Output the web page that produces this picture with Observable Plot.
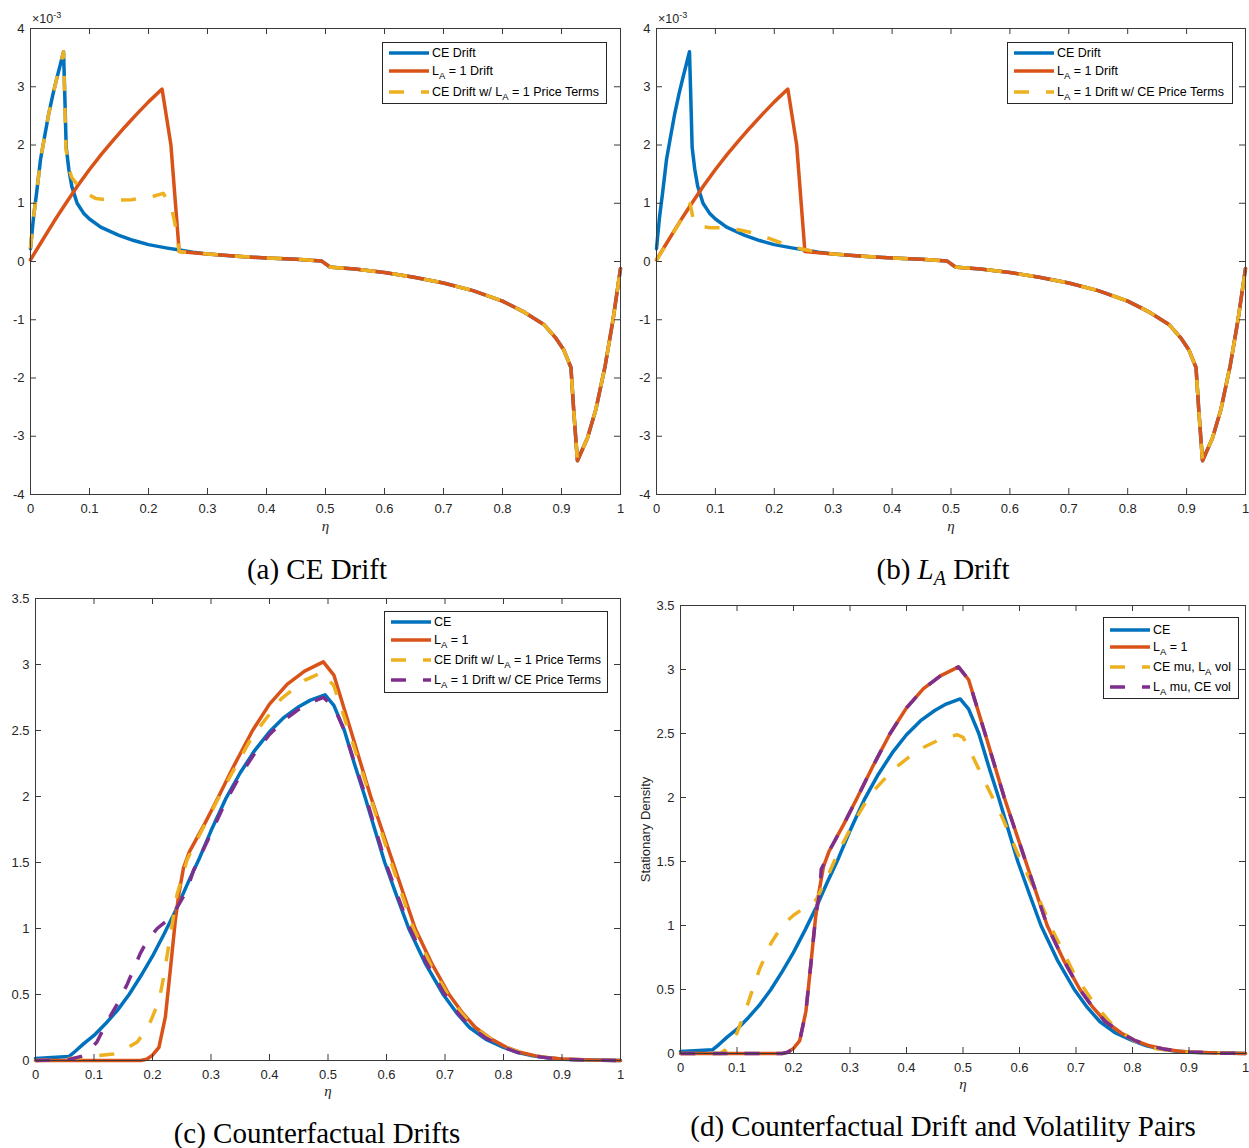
<!DOCTYPE html>
<html><head><meta charset="utf-8">
<script src="https://cdn.jsdelivr.net/npm/d3@7"></script>
<script src="https://cdn.jsdelivr.net/npm/@observablehq/plot@0.6"></script>
<style>
body{margin:0;background:#fff;}
#root{position:relative;width:1249px;height:1148px;overflow:hidden;background:#fff;font-family:"Liberation Sans",Arial,Helvetica,sans-serif;}
.panel{position:absolute;}
.legend{position:absolute;border:1px solid #262626;background:#fff;box-sizing:border-box;}
.lrow{position:absolute;left:0;height:16px;line-height:16px;white-space:nowrap;font-size:12.5px;color:#000;}
.lrow svg{position:absolute;left:0;top:0;}
.lrow span.t{position:absolute;top:0;}
.lrow sub{font-size:9.5px;vertical-align:-4px;line-height:0;}
.exp{position:absolute;font-size:12.5px;color:#262626;line-height:14px;}
.exp sup{font-size:9px;vertical-align:5px;line-height:0;}
.cap{position:absolute;font-family:"Liberation Serif","Times New Roman",serif;font-size:29px;line-height:29px;color:#000;text-align:center;white-space:nowrap;}
.cap sub{font-size:20px;vertical-align:-6px;line-height:0;}
</style></head>
<body><div id="root"></div>
<script>
// ---------- tick values and labels ----------
const etaTicks = [0, 0.1, 0.2, 0.3, 0.4, 0.5, 0.6, 0.7, 0.8, 0.9, 1];
const etaTickLabels = ["0", "0.1", "0.2", "0.3", "0.4", "0.5", "0.6", "0.7", "0.8", "0.9", "1"];
const driftTicks = [-4, -3, -2, -1, 0, 1, 2, 3, 4];
const driftTickLabels = ["-4", "-3", "-2", "-1", "0", "1", "2", "3", "4"];
const densityTicks = [0, 0.5, 1, 1.5, 2, 2.5, 3, 3.5];
const densityTickLabels = ["0", "0.5", "1", "1.5", "2", "2.5", "3", "3.5"];

// ---------- drift series (values in units of 10^-3) ----------
// common part of all drift curves for eta >= 0.3
const driftTailEta = [0.3, 0.35, 0.4, 0.45, 0.493, 0.507, 0.51, 0.55, 0.6, 0.65, 0.7, 0.75, 0.8, 0.837, 0.87, 0.89, 0.904, 0.916, 0.921, 0.927, 0.944, 0.958, 0.974, 0.987, 1.0];
const driftTailVal = [0.13, 0.09, 0.06, 0.04, 0.01, -0.09, -0.1, -0.13, -0.19, -0.27, -0.37, -0.5, -0.68, -0.87, -1.08, -1.31, -1.52, -1.82, -2.6, -3.42, -3.03, -2.55, -1.79, -1.02, -0.12];

const ceDriftEta = [0, 0.005, 0.01, 0.017, 0.024, 0.031, 0.038, 0.045, 0.051, 0.056, 0.058, 0.0605, 0.065, 0.07, 0.079, 0.09, 0.1, 0.119, 0.15, 0.175, 0.2, 0.232, 0.25, 0.275];
const ceDriftVal = [0.22, 0.75, 1.15, 1.75, 2.15, 2.54, 2.87, 3.16, 3.4, 3.6, 2.9, 1.96, 1.58, 1.29, 1.0, 0.83, 0.73, 0.59, 0.45, 0.36, 0.29, 0.23, 0.2, 0.16];

const laDriftEta = [0, 0.02, 0.04, 0.06, 0.08, 0.1, 0.12, 0.14, 0.16, 0.18, 0.2, 0.223, 0.238, 0.252, 0.275];
const laDriftVal = [0.03, 0.36, 0.69, 1.0, 1.3, 1.58, 1.84, 2.08, 2.31, 2.53, 2.74, 2.96, 2.0, 0.17, 0.15];

const ceDriftLaPriceEta = [0, 0.005, 0.01, 0.017, 0.024, 0.031, 0.038, 0.045, 0.051, 0.056, 0.06, 0.065, 0.07, 0.084, 0.1, 0.111, 0.141, 0.171, 0.205, 0.225, 0.239, 0.245, 0.252, 0.275];
const ceDriftLaPriceVal = [0.22, 0.75, 1.15, 1.75, 2.15, 2.54, 2.87, 3.16, 3.4, 3.6, 1.95, 1.6, 1.44, 1.26, 1.14, 1.08, 1.05, 1.06, 1.11, 1.17, 0.93, 0.64, 0.17, 0.15];

const laDriftCePriceEta = [0, 0.02, 0.04, 0.057, 0.062, 0.07, 0.09, 0.11, 0.137, 0.164, 0.19, 0.214, 0.244, 0.275];
const laDriftCePriceVal = [0.02, 0.35, 0.68, 0.99, 0.75, 0.62, 0.58, 0.58, 0.55, 0.49, 0.4, 0.31, 0.22, 0.16];

// ---------- stationary densities ----------
const ceDensEta = [0, 0.057, 0.068, 0.083, 0.1, 0.12, 0.14, 0.16, 0.18, 0.2, 0.22, 0.24, 0.26, 0.28, 0.3, 0.326, 0.35, 0.375, 0.4, 0.425, 0.45, 0.47, 0.495, 0.51, 0.528, 0.545, 0.563, 0.58, 0.597, 0.618, 0.638, 0.667, 0.697, 0.72, 0.742, 0.77, 0.8, 0.825, 0.85, 0.875, 0.9, 0.95, 1.0];
const ceDensVal = [0.015, 0.03, 0.07, 0.13, 0.19, 0.28, 0.38, 0.5, 0.64, 0.79, 0.96, 1.14, 1.34, 1.53, 1.74, 1.99, 2.18, 2.35, 2.49, 2.6, 2.68, 2.73, 2.77, 2.69, 2.5, 2.25, 2.0, 1.75, 1.5, 1.24, 1.0, 0.73, 0.5, 0.36, 0.25, 0.16, 0.1, 0.06, 0.035, 0.02, 0.01, 0.003, 0];

const laDensEta = [0, 0.18, 0.19, 0.2, 0.211, 0.222, 0.231, 0.239, 0.245, 0.253, 0.263, 0.29, 0.313, 0.34, 0.371, 0.4, 0.43, 0.46, 0.492, 0.51, 0.539, 0.556, 0.573, 0.592, 0.611, 0.63, 0.649, 0.678, 0.707, 0.73, 0.752, 0.78, 0.805, 0.83, 0.855, 0.88, 0.9, 0.95, 1.0];
const laDensVal = [0, 0, 0.01, 0.04, 0.1, 0.33, 0.71, 1.06, 1.26, 1.46, 1.58, 1.8, 2.0, 2.24, 2.5, 2.7, 2.85, 2.95, 3.02, 2.92, 2.5, 2.25, 2.0, 1.75, 1.5, 1.25, 1.0, 0.73, 0.5, 0.36, 0.25, 0.16, 0.1, 0.06, 0.035, 0.02, 0.012, 0.003, 0];

// (c) CE drift w/ L_A = 1 price terms
const ceDriftLaPriceDensEta = [0, 0.077, 0.133, 0.155, 0.174, 0.187, 0.197, 0.211, 0.219, 0.228, 0.234, 0.242, 0.251, 0.259, 0.284, 0.32, 0.37, 0.42, 0.46, 0.49, 0.51, 0.539, 0.556, 0.572, 0.59, 0.608, 0.627, 0.646, 0.675, 0.705, 0.728, 0.75, 0.78, 0.803, 0.83, 0.855, 0.88, 0.9, 0.95, 1.0];
const ceDriftLaPriceDensVal = [0, 0.02, 0.05, 0.09, 0.14, 0.22, 0.3, 0.45, 0.63, 0.88, 1.04, 1.26, 1.39, 1.52, 1.74, 2.05, 2.45, 2.74, 2.88, 2.94, 2.84, 2.45, 2.22, 2.0, 1.75, 1.5, 1.25, 1.0, 0.73, 0.5, 0.36, 0.25, 0.16, 0.1, 0.06, 0.035, 0.02, 0.012, 0.003, 0];

// (c) L_A = 1 drift w/ CE price terms
const laDriftCePriceDensEta = [0, 0.06, 0.085, 0.105, 0.123, 0.14, 0.157, 0.179, 0.191, 0.208, 0.225, 0.242, 0.259, 0.27, 0.3, 0.326, 0.35, 0.375, 0.4, 0.425, 0.45, 0.47, 0.492, 0.51, 0.528, 0.545, 0.563, 0.58, 0.597, 0.618, 0.638, 0.667, 0.697, 0.72, 0.742, 0.77, 0.8, 0.825, 0.85, 0.875, 0.9, 0.95, 1.0];
const laDriftCePriceDensVal = [0, 0.01, 0.04, 0.14, 0.3, 0.43, 0.58, 0.81, 0.91, 1.0, 1.06, 1.16, 1.29, 1.44, 1.72, 1.97, 2.16, 2.33, 2.47, 2.58, 2.66, 2.71, 2.75, 2.68, 2.5, 2.26, 2.02, 1.77, 1.52, 1.26, 1.02, 0.75, 0.52, 0.37, 0.26, 0.17, 0.1, 0.06, 0.035, 0.02, 0.01, 0.003, 0];

// (d) CE mu, L_A vol
const ceMuLaVolEta = [0, 0.07, 0.08, 0.1, 0.12, 0.14, 0.16, 0.18, 0.2, 0.22, 0.24, 0.26, 0.28, 0.306, 0.335, 0.377, 0.42, 0.462, 0.49, 0.5, 0.512, 0.54, 0.569, 0.597, 0.633, 0.661, 0.696, 0.732, 0.767, 0.803, 0.838, 0.888, 0.93, 1.0];
const ceMuLaVolVal = [0, 0, 0.03, 0.16, 0.4, 0.66, 0.86, 1.0, 1.08, 1.14, 1.2, 1.38, 1.58, 1.8, 2.02, 2.22, 2.37, 2.46, 2.49, 2.47, 2.37, 2.11, 1.85, 1.56, 1.22, 0.94, 0.63, 0.39, 0.21, 0.1, 0.04, 0.013, 0.005, 0];

// (d) L_A mu, CE vol
const laMuCeVolEta = [0, 0.18, 0.19, 0.2, 0.211, 0.222, 0.231, 0.239, 0.247, 0.249, 0.256, 0.263, 0.29, 0.313, 0.34, 0.371, 0.4, 0.43, 0.46, 0.492, 0.51, 0.539, 0.556, 0.573, 0.592, 0.611, 0.63, 0.649, 0.678, 0.707, 0.73, 0.752, 0.78, 0.805, 0.83, 0.855, 0.88, 0.9, 0.95, 1.0];
const laMuCeVolVal = [0, 0, 0.01, 0.04, 0.1, 0.33, 0.71, 1.06, 1.28, 1.44, 1.5, 1.58, 1.8, 2.0, 2.24, 2.5, 2.7, 2.85, 2.95, 3.02, 2.92, 2.5, 2.25, 2.0, 1.75, 1.5, 1.25, 1.0, 0.73, 0.5, 0.36, 0.25, 0.16, 0.1, 0.06, 0.035, 0.02, 0.012, 0.003, 0];

// ---------- styling ----------
const COL = {blue: "#0072BD", orange: "#D95319", yellow: "#EDB120", purple: "#7E2F8E"};
const AX = "#262626";
const FRAME = "#3a3a3a";
const DASH = "15,17";
const LW = 3.5;

const rows = (e, v) => e.map((x, i) => ({eta: x, v: v[i]}));
const withTail = (e, v) => rows(e.concat(driftTailEta), v.concat(driftTailVal));

const root = document.getElementById("root");

function addPanel(cfg) {
  const {left, top, width, height, m, yDomain, yTicks, yLabels, series, yLabel, etaDy} = cfg;
  const fw = width - m.l - m.r, fh = height - m.t - m.b;
  const xFmt = new Map(etaTicks.map((t, i) => [t, etaTickLabels[i]]));
  const yFmt = new Map(yTicks.map((t, i) => [t, yLabels[i]]));
  const marks = series.map(s => Plot.line(s.data, {
    x: "eta", y: "v", stroke: s.color, strokeWidth: LW,
    strokeDasharray: s.dash ? DASH : undefined,
    strokeLinecap: s.dash ? "butt" : "round", strokeLinejoin: "round"
  }));
  marks.push(
    Plot.frame({stroke: FRAME, strokeWidth: 1}),
    Plot.tickX(etaTicks, {x: d => d, stroke: FRAME, strokeWidth: 1, insetTop: fh - 6}),
    Plot.tickX(etaTicks, {x: d => d, stroke: FRAME, strokeWidth: 1, insetBottom: fh - 6}),
    Plot.tickY(yTicks, {y: d => d, stroke: FRAME, strokeWidth: 1, insetRight: fw - 6}),
    Plot.tickY(yTicks, {y: d => d, stroke: FRAME, strokeWidth: 1, insetLeft: fw - 6}),
    Plot.axisX({ticks: etaTicks, tickSize: 0, tickPadding: 9, tickFormat: d => xFmt.get(d), label: null, fontSize: 13}),
    Plot.axisY({ticks: yTicks, tickSize: 0, tickPadding: 6, tickFormat: d => yFmt.get(d), label: null, fontSize: 13}),
    Plot.text(["η"], {frameAnchor: "bottom", dy: etaDy, fontStyle: "italic", fontFamily: "Liberation Serif, Times New Roman, serif", fontSize: 15, fill: AX})
  );
  if (yLabel) marks.push(Plot.text([yLabel], {frameAnchor: "left", textAnchor: "middle", rotate: -90, dx: -35, fontSize: 13, fill: AX}));
  const svg = Plot.plot({
    width, height, marginLeft: m.l, marginRight: m.r, marginTop: m.t, marginBottom: m.b,
    style: {fontFamily: "Liberation Sans, Arial, Helvetica, sans-serif", fontSize: "13px", color: AX, background: "transparent", overflow: "visible"},
    x: {domain: [0, 1]},
    y: {domain: yDomain},
    marks
  });
  const div = document.createElement("div");
  div.className = "panel";
  div.style.left = left + "px"; div.style.top = top + "px";
  div.appendChild(svg);
  root.appendChild(div);
}

function addLegend(box, entries) {
  const lg = document.createElement("div");
  lg.className = "legend";
  Object.assign(lg.style, {left: box.x + "px", top: box.y + "px", width: box.w + "px", height: box.h + "px"});
  entries.forEach(en => {
    const r = document.createElement("div");
    r.className = "lrow";
    r.style.top = (en.cy - 8) + "px";
    r.style.width = box.w + "px";
    r.innerHTML = `<svg width="50" height="16"><line x1="6" x2="46" y1="8" y2="8" stroke="${en.color}" stroke-width="${LW}" ${en.dash ? `stroke-dasharray="${DASH}"` : ""} stroke-linecap="butt"/></svg><span class="t" style="left:49px">${en.html}</span>`;
    lg.appendChild(r);
  });
  root.appendChild(lg);
}

function addHtml(cls, x, y, html, w) {
  const d = document.createElement("div");
  d.className = cls;
  d.style.left = x + "px"; d.style.top = y + "px";
  if (w) d.style.width = w + "px";
  d.innerHTML = html;
  root.appendChild(d);
}

const LA = "L<sub>A</sub>";

// (a) CE Drift
addPanel({left: 0, top: 0, width: 640, height: 545, m: {l: 30, r: 20, t: 28, b: 51},
  yDomain: [-4, 4], yTicks: driftTicks, yLabels: driftTickLabels, etaDy: 36,
  series: [
    {data: withTail(ceDriftEta, ceDriftVal), color: COL.blue},
    {data: withTail(laDriftEta, laDriftVal), color: COL.orange},
    {data: withTail(ceDriftLaPriceEta, ceDriftLaPriceVal), color: COL.yellow, dash: true}
  ]});
addLegend({x: 382, y: 42, w: 225, h: 62}, [
  {cy: 10, color: COL.blue, html: "CE Drift"},
  {cy: 28, color: COL.orange, html: `${LA} = 1 Drift`},
  {cy: 49, color: COL.yellow, dash: true, html: `CE Drift w/ ${LA} = 1 Price Terms`}
]);
addHtml("exp", 32, 12, "×10<sup>-3</sup>");

// (b) L_A Drift
addPanel({left: 626, top: 0, width: 623, height: 545, m: {l: 30, r: 4, t: 28, b: 51},
  yDomain: [-4, 4], yTicks: driftTicks, yLabels: driftTickLabels, etaDy: 36,
  series: [
    {data: withTail(ceDriftEta, ceDriftVal), color: COL.blue},
    {data: withTail(laDriftEta, laDriftVal), color: COL.orange},
    {data: withTail(laDriftCePriceEta, laDriftCePriceVal), color: COL.yellow, dash: true}
  ]});
addLegend({x: 1007, y: 42, w: 226, h: 62}, [
  {cy: 10, color: COL.blue, html: "CE Drift"},
  {cy: 28, color: COL.orange, html: `${LA} = 1 Drift`},
  {cy: 49, color: COL.yellow, dash: true, html: `${LA} = 1 Drift w/ CE Price Terms`}
]);
addHtml("exp", 658, 12, "×10<sup>-3</sup>");

// (c) Counterfactual Drifts
addPanel({left: 0, top: 560, width: 640, height: 588, m: {l: 35, r: 20, t: 38, b: 88},
  yDomain: [0, 3.5], yTicks: densityTicks, yLabels: densityTickLabels, etaDy: 35,
  series: [
    {data: rows(ceDensEta, ceDensVal), color: COL.blue},
    {data: rows(laDensEta, laDensVal), color: COL.orange},
    {data: rows(ceDriftLaPriceDensEta, ceDriftLaPriceDensVal), color: COL.yellow, dash: true},
    {data: rows(laDriftCePriceDensEta, laDriftCePriceDensVal), color: COL.purple, dash: true}
  ]});
addLegend({x: 384, y: 611, w: 224, h: 82}, [
  {cy: 10, color: COL.blue, html: "CE"},
  {cy: 28, color: COL.orange, html: `${LA} = 1`},
  {cy: 48, color: COL.yellow, dash: true, html: `CE Drift w/ ${LA} = 1 Price Terms`},
  {cy: 68, color: COL.purple, dash: true, html: `${LA} = 1 Drift w/ CE Price Terms`}
]);

// (d) Counterfactual Drift and Volatility Pairs
addPanel({left: 626, top: 560, width: 623, height: 588, m: {l: 54, r: 4, t: 45, b: 95},
  yDomain: [0, 3.5], yTicks: densityTicks, yLabels: densityTickLabels, etaDy: 35,
  yLabel: "Stationary Density",
  series: [
    {data: rows(ceDensEta, ceDensVal), color: COL.blue},
    {data: rows(laDensEta, laDensVal), color: COL.orange},
    {data: rows(ceMuLaVolEta, ceMuLaVolVal), color: COL.yellow, dash: true},
    {data: rows(laMuCeVolEta, laMuCeVolVal), color: COL.purple, dash: true}
  ]});
addLegend({x: 1103, y: 617, w: 136, h: 82}, [
  {cy: 12, color: COL.blue, html: "CE"},
  {cy: 29, color: COL.orange, html: `${LA} = 1`},
  {cy: 49, color: COL.yellow, dash: true, html: `CE mu, ${LA} vol`},
  {cy: 69, color: COL.purple, dash: true, html: `${LA} mu, CE vol`}
]);

// captions
addHtml("cap", 17, 555, "(a) CE Drift", 600);
addHtml("cap", 643, 555, "(b) <i>L<sub>A</sub></i> Drift", 600);
addHtml("cap", 17, 1119, "(c) Counterfactual Drifts", 600);
addHtml("cap", 643, 1112, "(d) Counterfactual Drift and Volatility Pairs", 600);
</script>
</body></html>
